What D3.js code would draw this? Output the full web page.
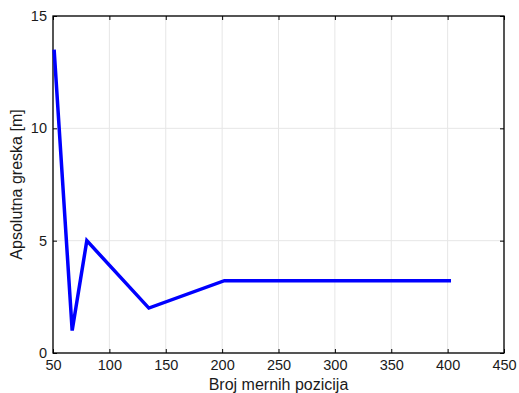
<!DOCTYPE html>
<html>
<head>
<meta charset="utf-8">
<script src="https://cdn.jsdelivr.net/npm/d3@7"></script>
<style>
  body { margin: 0; background: #fff; }
  text { font-family: "Liberation Sans", Arial, sans-serif; fill: #1a1a1a; }
</style>
</head>
<body>
<div id="chart"></div>
<script>
var xValues = [51, 67, 80, 135, 202, 403];
var yValues = [13.5, 1, 5, 2, 3.22, 3.22];
var xTicks = [50, 100, 150, 200, 250, 300, 350, 400, 450];
var yTicks = [0, 5, 10, 15];

var margin = { top: 16, right: 15, bottom: 40, left: 53 };
var width = 519 - margin.left - margin.right,
    height = 393 - margin.top - margin.bottom;

var svg = d3.select("#chart").append("svg")
    .attr("width", 519)
    .attr("height", 393)
    .append("g")
    .attr("transform", "translate(" + margin.left + "," + margin.top + ")");

var x = d3.scaleLinear().domain([50, 450]).range([0, width]);
var y = d3.scaleLinear().domain([0, 15]).range([height, 0]);

// grid
svg.append("g").selectAll("line").data(xTicks).enter().append("line")
    .attr("x1", function (d) { return x(d); })
    .attr("x2", function (d) { return x(d); })
    .attr("y1", 0).attr("y2", height)
    .style("stroke", "#e6e6e6");
svg.append("g").selectAll("line").data(yTicks).enter().append("line")
    .attr("y1", function (d) { return y(d); })
    .attr("y2", function (d) { return y(d); })
    .attr("x1", 0).attr("x2", width)
    .style("stroke", "#e6e6e6");

// axes with inner ticks
function styleAxis(g) {
    g.select(".domain").remove();
    g.selectAll(".tick line").style("stroke", "#000");
    g.selectAll("text").style("font-size", "14.5px").style("fill", "#1a1a1a");
}
svg.append("g").attr("transform", "translate(0," + height + ")")
    .call(d3.axisBottom(x).tickValues(xTicks).tickSize(-4).tickPadding(7))
    .call(styleAxis);
svg.append("g")
    .call(d3.axisTop(x).tickValues(xTicks).tickSize(-4).tickFormat(""))
    .call(styleAxis);
svg.append("g")
    .call(d3.axisLeft(y).tickValues(yTicks).tickSize(-4).tickPadding(6))
    .call(styleAxis);
svg.append("g").attr("transform", "translate(" + width + ",0)")
    .call(d3.axisRight(y).tickValues(yTicks).tickSize(-4).tickFormat(""))
    .call(styleAxis);

// box
svg.append("rect")
    .attr("width", width).attr("height", height)
    .style("fill", "none").style("stroke", "#000").style("stroke-width", 1.3);

// line
var pts = xValues.map(function (d, i) { return [d, yValues[i]]; });
svg.append("path")
    .datum(pts)
    .attr("d", d3.line().x(function (d) { return x(d[0]); }).y(function (d) { return y(d[1]); }))
    .style("fill", "none")
    .style("stroke", "#0000ff")
    .style("stroke-width", 3.5);

// labels
svg.append("text")
    .attr("x", width / 2).attr("y", height + 37)
    .attr("text-anchor", "middle")
    .style("font-size", "16px")
    .text("Broj mernih pozicija");
svg.append("text")
    .attr("transform", "rotate(-90)")
    .attr("x", -height / 2).attr("y", -31)
    .attr("text-anchor", "middle")
    .style("font-size", "16px")
    .text("Apsolutna greska [m]");
</script>
</body>
</html>
